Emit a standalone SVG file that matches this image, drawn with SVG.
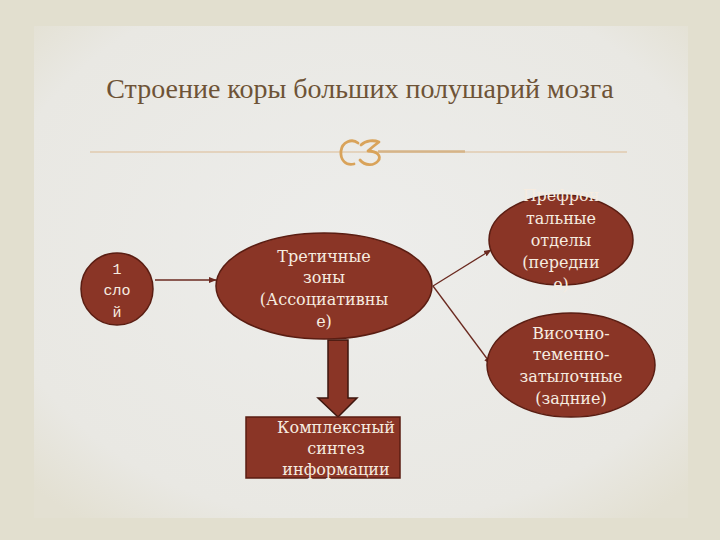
<svg xmlns="http://www.w3.org/2000/svg" width="720" height="540" viewBox="0 0 720 540">
<defs>
<style>
.node{fill:#8a3526;stroke:#5a1d12;stroke-width:1.5}
.t{font-family:"DejaVu Serif","Liberation Serif",serif;font-size:16px;fill:#f6ece0;text-anchor:middle}
.m{font-family:"Liberation Mono","DejaVu Sans Mono",monospace;font-size:15px;fill:#f6ece0;text-anchor:middle}
.conn{stroke:#6b2a20;stroke-width:1.3;fill:none}
</style>
<marker id="ah" viewBox="0 0 10 10" refX="9" refY="5" markerWidth="6" markerHeight="6" orient="auto">
<path d="M0,1 L10,5 L0,9 z" fill="#6b2a20"/>
</marker>
<radialGradient id="bg" cx="50%" cy="45%" r="70%">
<stop offset="0" stop-color="#ededeb"/>
<stop offset="0.8" stop-color="#e9e8e3"/>
<stop offset="1" stop-color="#e3e0d2"/>
</radialGradient>
</defs>
<rect width="720" height="540" fill="#e2dfcf"/>
<rect x="34" y="26" width="654" height="492" fill="url(#bg)"/>
<g id="title">
<text x="360" y="98" font-family="Liberation Serif,DejaVu Serif,serif" font-size="28" fill="#6e5336" text-anchor="middle">Строение коры больших полушарий мозга</text>
</g>
<g id="divider">
<line x1="90" y1="152" x2="627" y2="152" stroke="#dcbb94" stroke-width="1"/>
<line x1="378" y1="151.5" x2="465" y2="151.5" stroke="#d6b488" stroke-width="2.5"/>
<path d="M358,143 C352,138 342,142 341,151 C340,160 346,166 354,164" fill="none" stroke="#d9a35a" stroke-width="2.8" stroke-linecap="round"/>
<path d="M361,145 C366,140 374,140 379,142 C375,145 371,148 368,151 C377,151 382,156 378,161 C374,166 365,166 360,160" fill="none" stroke="#d9a35a" stroke-width="2.8" stroke-linecap="round" stroke-linejoin="round"/>
</g>
<g id="connectors">
<line class="conn" x1="155" y1="280" x2="216" y2="280" marker-end="url(#ah)"/>
<line class="conn" x1="433" y1="286" x2="491" y2="250" marker-end="url(#ah)"/>
<line class="conn" x1="433" y1="286" x2="491" y2="364" marker-end="url(#ah)"/>
<path d="M328,340 L348,340 L348,398 L357,398 L338,417 L318,398 L328,398 Z" fill="#8a3526" stroke="#3e160e" stroke-width="1.5"/>
</g>
<g id="node-layer1">
<circle class="node" cx="117" cy="289" r="36"/>
<text class="m" x="117" y="274">1</text>
<text class="m" x="117" y="295">сло</text>
<text class="m" x="117" y="317">й</text>
</g>
<g id="node-tertiary">
<ellipse class="node" cx="324" cy="286" rx="108" ry="53"/>
<text class="t" x="324" y="262">Третичные</text>
<text class="t" x="324" y="283">зоны</text>
<text class="t" x="324" y="305">(Ассоциативны</text>
<text class="t" x="324" y="327">е)</text>
</g>
<g id="node-prefrontal">
<ellipse class="node" cx="561" cy="240" rx="72" ry="45"/>
<text class="t" x="561" y="201">Префрон</text>
<text class="t" x="561" y="224">тальные</text>
<text class="t" x="561" y="246">отделы</text>
<text class="t" x="561" y="268">(передни</text>
<text class="t" x="561" y="290">е)</text>
</g>
<g id="node-temporal">
<ellipse class="node" cx="571" cy="365" rx="84" ry="52"/>
<text class="t" x="571" y="339">Височно-</text>
<text class="t" x="571" y="360">теменно-</text>
<text class="t" x="571" y="382">затылочные</text>
<text class="t" x="571" y="404">(задние)</text>
</g>
<g id="node-synthesis">
<rect class="node" x="246" y="417" width="154" height="61" stroke="#3e160e"/>
<text class="t" x="336" y="433">Комплексный</text>
<text class="t" x="336" y="454">синтез</text>
<text class="t" x="336" y="475">информации</text>
</g>
</svg>
